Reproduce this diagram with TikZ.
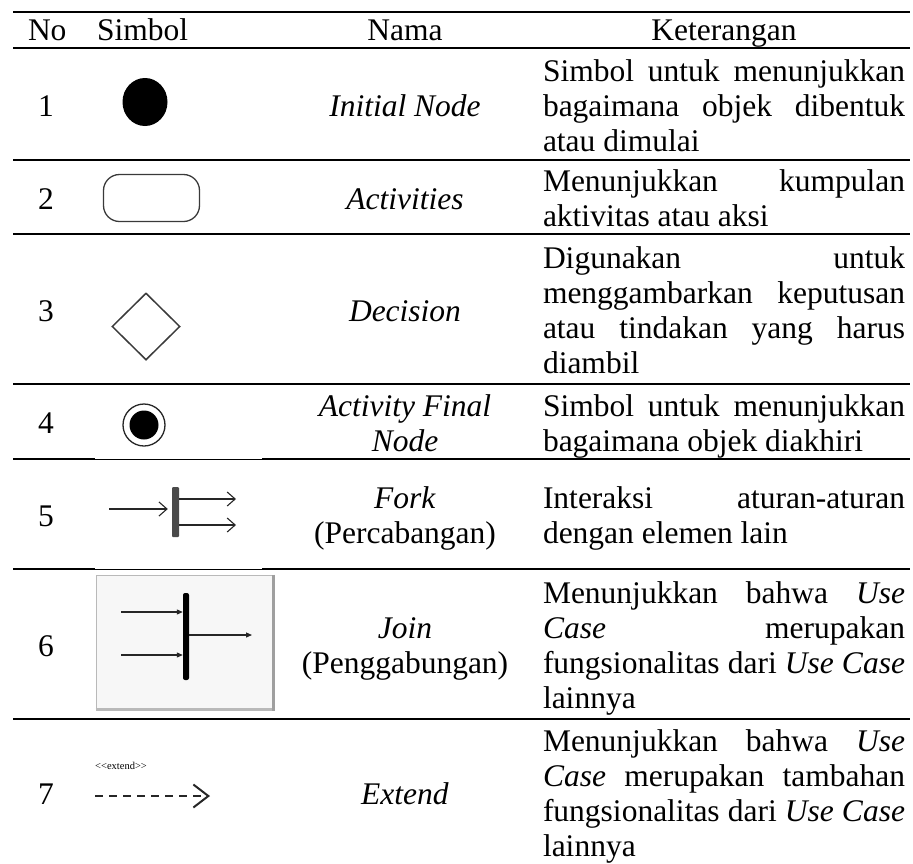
\documentclass[tikz,border=0pt]{standalone}
\usepackage{fontspec}
\setmainfont{Liberation Serif}
\usetikzlibrary{arrows.meta,shapes.geometric}
\definecolor{symgray}{HTML}{3A3A3A}
\definecolor{forkgray}{HTML}{4A4A4A}
\newcommand{\Jl}[1]{\makebox[362pt][s]{#1}}
\begin{document}
\begin{tikzpicture}[x=1pt,y=-1pt,
  tx/.style={inner sep=0pt,outer sep=0pt,font=\fontsize{31.5}{35}\selectfont},
  dl/.style={tx,anchor=base west},
  nm/.style={tx,anchor=base},
  rthick/.style={line width=2pt},
  rthin/.style={line width=1pt},
  arrline/.style={line width=1.1pt,draw=black!85}]
\useasboundingbox (0,0) rectangle (913,863);

% rules
\draw[rthick] (13,12) -- (910,12);
\draw[rthick] (13,48) -- (910,48);
\draw[rthick] (13,160) -- (910,160);
\draw[rthick] (13,234) -- (910,234);
\draw[rthick] (13,384) -- (910,384);
\draw[rthick] (13,459) -- (95,459);
\draw[rthin] (95,459) -- (262,459);
\draw[rthick] (262,459) -- (910,459);
\draw[rthick] (13,569) -- (95,569);
\draw[rthin] (95,569) -- (262,569);
\draw[rthick] (262,569) -- (910,569);
\draw[rthick] (13,719) -- (910,719);

% header
\node[dl] (hno) at (28,40) {No};
\node[dl] (hsim) at (97,40) {Simbol};
\node[nm] (hnama) at (405,40) {Nama};
\node[nm] (hket) at (724,40) {Keterangan};

% numbers
\node[nm] (n1) at (46,116) {1};
\node[nm] (n2) at (46,209) {2};
\node[nm] (n3) at (46,321) {3};
\node[nm] (n4) at (46,433) {4};
\node[nm] (n5) at (46,526) {5};
\node[nm] (n6) at (46,656) {6};
\node[nm] (n7) at (46,804) {7};

% names
\node[nm] (k1) at (405,116) {\textit{Initial Node}};
\node[nm] (k2) at (405,209) {\textit{Activities}};
\node[nm] (k3) at (405,321) {\textit{Decision}};
\node[nm] (k4a) at (405,416) {\textit{Activity Final}};
\node[nm] (k4b) at (405,451) {\textit{Node}};
\node[nm] (k5a) at (405,508) {\textit{Fork}};
\node[nm] (k5b) at (405,543) {(Percabangan)};
\node[nm] (k6a) at (405,638) {\textit{Join}};
\node[nm] (k6b) at (405,673) {(Penggabungan)};
\node[nm] (k7) at (405,804) {\textit{Extend}};

% descriptions
\node[dl] (d1a) at (543,81) {\Jl{Simbol untuk menunjukkan}};
\node[dl] (d1b) at (543,116) {\Jl{bagaimana objek dibentuk}};
\node[dl] (d1c) at (543,151) {atau dimulai};
\node[dl] (d2a) at (543,191) {\Jl{Menunjukkan kumpulan}};
\node[dl] (d2b) at (543,226) {aktivitas atau aksi};
\node[dl] (d3a) at (543,268) {\Jl{Digunakan untuk}};
\node[dl] (d3b) at (543,303) {\Jl{menggambarkan keputusan}};
\node[dl] (d3c) at (543,338) {\Jl{atau tindakan yang harus}};
\node[dl] (d3d) at (543,373) {diambil};
\node[dl] (d4a) at (543,416) {\Jl{Simbol untuk menunjukkan}};
\node[dl] (d4b) at (543,451) {bagaimana objek diakhiri};
\node[dl] (d5a) at (543,508) {\Jl{Interaksi aturan-aturan}};
\node[dl] (d5b) at (543,543) {dengan elemen lain};
\node[dl] (d6a) at (543,603) {\Jl{Menunjukkan bahwa \textit{Use}}};
\node[dl] (d6b) at (543,638) {\Jl{\textit{Case} merupakan}};
\node[dl] (d6c) at (543,673) {\Jl{fungsionalitas dari \textit{Use Case}}};
\node[dl] (d6d) at (543,708) {lainnya};
\node[dl] (d7a) at (543,751) {\Jl{Menunjukkan bahwa \textit{Use}}};
\node[dl] (d7b) at (543,786) {\Jl{\textit{Case} merupakan tambahan}};
\node[dl] (d7c) at (543,821) {\Jl{fungsionalitas dari \textit{Use Case}}};
\node[dl] (d7d) at (543,856) {lainnya};

% symbol 1: initial node
\node[ellipse,fill=black,minimum width=45pt,minimum height=48pt,inner sep=0pt] (s1) at (145,102) {};
% symbol 2: activity
\node[draw=symgray,line width=1.3pt,rounded corners=16pt,minimum width=96pt,minimum height=47pt,inner sep=0pt] (s2) at (151.5,198) {};
% symbol 3: decision
\node[diamond,draw=symgray,line width=1.5pt,minimum width=68pt,minimum height=67pt,inner sep=0pt] (s3) at (146,326.5) {};
% symbol 4: final node
\node[circle,draw=black!85,line width=1.3pt,minimum size=42pt,inner sep=0pt] (s4) at (144,425) {};
\node[circle,fill=black,minimum size=29pt,inner sep=0pt] (s4i) at (s4.center) {};
% symbol 5: fork
\node[fill=forkgray,rounded corners=1pt,minimum width=7pt,minimum height=50pt,inner sep=0pt] (fbar) at (175.5,512) {};
\coordinate (fin) at (109,509);
\coordinate (fo1) at (236,499);
\coordinate (fo2) at (236,525);
\draw[arrline,shorten >=4pt,-{Straight Barb[length=8pt,width=14pt]}] (fin) -- (fin -| fbar.west);
\draw[arrline,-{Straight Barb[length=8pt,width=14pt]}] (fbar.east |- fo1) -- (fo1);
\draw[arrline,-{Straight Barb[length=8pt,width=14pt]}] (fbar.east |- fo2) -- (fo2);
% symbol 6: join
\node[draw=gray!55,fill=gray!6,line width=1pt,minimum width=178pt,minimum height=135pt,inner sep=0pt] (jbox) at (185,642.5) {};
\draw[line width=3pt,draw=gray!75] ([xshift=-1.5pt]jbox.north east) -- ([xshift=-1.5pt]jbox.south east);
\draw[line width=3pt,draw=gray!55] ([yshift=1.5pt]jbox.south west) -- ([yshift=1.5pt,xshift=-3pt]jbox.south east);
\node[fill=black,rounded corners=2pt,minimum width=6pt,minimum height=87pt,inner sep=0pt] (jbar) at (186,636.5) {};
\coordinate (ji1) at (121,612);
\coordinate (ji2) at (121,655);
\coordinate (jo) at (252,635);
\draw[arrline,-{Triangle[length=6pt,width=5pt]}] (ji1) -- (ji1 -| jbar.west);
\draw[arrline,-{Triangle[length=6pt,width=5pt]}] (ji2) -- (ji2 -| jbar.west);
\draw[arrline,-{Triangle[length=6pt,width=5pt]}] (jbar.east |- jo) -- (jo);
% symbol 7: extend
\node[anchor=base west,inner sep=0pt,font=\fontsize{10.5}{12}\selectfont] (ext) at (95,769) {<\kern0pt<extend>\kern0pt>};
\coordinate (ea) at (95,796);
\coordinate (eb) at (210,796);
\draw[line width=2pt,draw=black!85,dash pattern=on 8pt off 6pt,-{Straight Barb[length=15pt,width=23pt,line width=2pt]}] (ea) -- (eb);
\end{tikzpicture}
\end{document}
